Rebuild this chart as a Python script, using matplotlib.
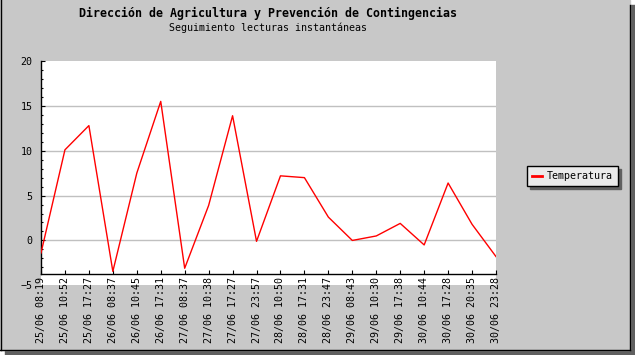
import numpy as np
import matplotlib.pyplot as plt
from matplotlib.patches import Rectangle
from matplotlib.lines import Line2D
from matplotlib.ticker import MultipleLocator

# lecturas de temperatura
labels = ['25/06 08:19', '25/06 10:52', '25/06 17:27', '26/06 08:37', '26/06 10:45',
          '26/06 17:31', '27/06 08:37', '27/06 10:38', '27/06 17:27', '27/06 23:57',
          '28/06 10:50', '28/06 17:31', '28/06 23:47', '29/06 08:43', '29/06 10:30',
          '29/06 17:38', '30/06 10:44', '30/06 17:28', '30/06 20:35', '30/06 23:28']
temperatura = [-1.4, 10.1, 12.8, -3.45, 7.5, 15.5, -3.1, 3.9, 13.9, -0.1,
               7.2, 7.0, 2.6, 0.0, 0.5, 1.9, -0.5, 6.4, 1.8, -1.8]

W, H = 635, 355
BG = '#c8c8c8'
SHADOW = '#606060'
FONT = 'DejaVu Sans Mono'

fig = plt.figure(figsize=(W / 100, H / 100), dpi=100, facecolor='white')

def px(x, y, w, h):
    # pixel box (from top-left) to figure fractions
    return (x / W, 1 - (y + h) / H), w / W, h / H

# marco con sombra
xy, w, h = px(5, 5, 630, 350)
fig.add_artist(Rectangle(xy, w, h, transform=fig.transFigure, color=SHADOW, zorder=0))
xy, w, h = px(0, 0, 630, 350)
fig.add_artist(Rectangle(xy, w, h, transform=fig.transFigure, color=BG, zorder=0.1))
for xs, ys in [([0.5, 0.5], [0, 350]), ([629.5, 629.5], [5, 350]), ([0, 630], [349.5, 349.5])]:
    fig.add_artist(Line2D([x / W for x in xs], [1 - y / H for y in ys],
                          transform=fig.transFigure, color='black', lw=1.0, zorder=0.2))

ax = fig.add_axes([41 / W, 1 - 285.3 / H, 455 / W, (285.3 - 61) / H])
ax.set_facecolor('white')
ax.set_zorder(1)

x = np.arange(len(labels))
ax.plot(x, temperatura, color='red', lw=1.0, label='Temperatura', zorder=3)

ax.set_xlim(0, len(labels) - 1)
ax.set_ylim(-5, 20)
ax_min = -3.75

ax.spines['top'].set_visible(False)
ax.spines['right'].set_visible(False)
ax.spines['bottom'].set_position(('data', ax_min))
ax.spines['left'].set_bounds(ax_min, 20)
for s in ['left', 'bottom']:
    ax.spines[s].set_linewidth(1.0)

ax.set_xticks(x)
ax.set_xticklabels(labels, rotation=90, family=FONT, fontsize=7.2)
ax.set_yticks([-5, 0, 5, 10, 15, 20])
ax.set_yticklabels(['\u22125', '0', '5', '10', '15', '20'], family=FONT, fontsize=7.2)
ax.yaxis.set_minor_locator(MultipleLocator(1))
ax.tick_params(axis='x', direction='in', length=3, width=0.8, pad=2)
ax.tick_params(axis='y', which='major', direction='in', length=3, width=0.8, pad=6)
ax.tick_params(axis='y', which='minor', direction='in', length=1.6, width=0.8)

for t in ax.yaxis.get_minor_ticks():
    t.tick1line.set_visible(False)
minor_vals = ax.yaxis.get_minorticklocs()
for t, v in zip(ax.yaxis.get_minor_ticks(), minor_vals):
    t.tick1line.set_visible(ax_min < v < 20 and v % 5 != 0)
ax.yaxis.get_major_ticks()[0].tick1line.set_visible(False)

for v in [0, 5, 10, 15]:
    ax.axhline(v, color='#c0c0c0', lw=1.0, zorder=1)

fig.text(268 / W, 1 - 13 / H, 'Dirección de Agricultura y Prevención de Contingencias',
         ha='center', va='center', family=FONT, fontsize=8.4, fontweight='bold')
fig.text(268 / W, 1 - 28 / H, 'Seguimiento lecturas instantáneas',
         ha='center', va='center', family=FONT, fontsize=7.2)

leg = ax.legend(loc='center left', bbox_to_anchor=(527 / W, 1 - 176 / H),
                bbox_transform=fig.transFigure, borderaxespad=0, fancybox=False,
                shadow={'color': SHADOW, 'alpha': 1, 'ox': 2, 'oy': -2},
                edgecolor='black', facecolor='#ebebeb', framealpha=1,
                handlelength=1.0, handletextpad=0.5, borderpad=0.5,
                prop={'family': FONT, 'size': 7.2})
leg.get_frame().set_linewidth(1.0)
leg.get_lines()[0].set_linewidth(2.0)

fig.savefig('out.png', dpi=100, facecolor='white')
